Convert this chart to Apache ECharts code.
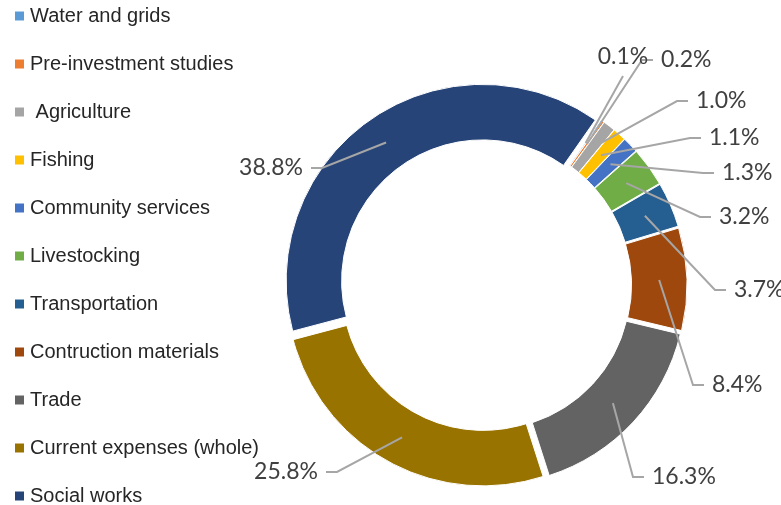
<!DOCTYPE html>
<html><head><meta charset="utf-8">
<script src="https://cdn.jsdelivr.net/npm/echarts@6/dist/echarts.min.js"></script>
<style>html,body{margin:0;padding:0;background:#fff}#c{width:781px;height:505px}</style>
</head><body><div id="c"></div>
<script>
// ---- data ----
const categories = ['Water and grids', 'Pre-investment studies', ' Agriculture', 'Fishing', 'Community services', 'Livestocking', 'Transportation', 'Contruction materials', 'Trade', 'Current expenses (whole)', 'Social works'];
const shares = [0.1, 0.2, 1.0, 1.1, 1.3, 3.2, 3.7, 8.4, 16.3, 25.8, 38.8];

// ---- style / layout ----
const colors = ['#5B9BD5', '#ED7D31', '#A5A5A5', '#FFC000', '#4472C4', '#70AD47', '#255E91', '#9E480E', '#636363', '#997300', '#264478'];
const labelElbow = [[623, 76], [642, 60], [677, 101], [690, 138], [703, 173], [700, 217], [715, 290], [693, 385], [633, 477], [337, 472], [322, 168]];
const labelSide = [0, 1, 1, 1, 1, 1, 1, 1, 1, -1, -1];

const CX = 485.5, CY = 285, R0 = 141, R1 = 196.5, EXPLODE = 5, LINE_R = (R0 + R1) / 2;

const pieBase = {
  type: 'pie',
  center: [CX, CY],
  radius: [R0, R1],
  startAngle: 55,
  clockwise: true,
  silent: true,
  avoidLabelOverlap: false,
  emphasis: { disabled: true }
};

const chart = echarts.init(document.getElementById('c'), null, { renderer: 'canvas' });
chart.setOption({
  animation: false,
  color: colors,
  legend: {
    orient: 'vertical', left: 15, top: 6, padding: 0, height: 560,
    itemWidth: 9, itemHeight: 9, itemGap: 28, icon: 'rect',
    selectedMode: false,
    data: categories,
    itemStyle: { borderWidth: 0 },
    textStyle: { fontFamily: 'Liberation Sans, Arial, sans-serif', fontSize: 20, color: '#262626', lineHeight: 20, padding: [0, 0, 0, 1] }
  },
  series: [
    Object.assign({}, pieBase, {
      name: 'slices',
      selectedMode: 'multiple',
      selectedOffset: EXPLODE,
      itemStyle: { borderColor: '#fff', borderWidth: 1 },
      select: { itemStyle: { borderColor: '#fff', borderWidth: 1 } },
      label: { show: false },
      labelLine: { show: false },
      data: categories.map((n, i) => ({ name: n, value: shares[i], selected: true }))
    }),
    Object.assign({}, pieBase, {
      name: 'labels',
      z: 5,
      legendHoverLink: false,
      itemStyle: { color: 'rgba(0,0,0,0)', borderWidth: 0 },
      label: {
        show: true, position: 'outside',
        formatter: p => p.value.toFixed(1) + '%',
        fontFamily: 'Lato, sans-serif', fontSize: 23, color: '#404040'
      },
      labelLine: { show: true, showAbove: true, lineStyle: { color: '#a6a6a6', width: 2 } },
      labelLayout: function (params) {
        const i = params.dataIndex;
        const p0 = params.labelLinePoints[0];
        const dx = p0[0] - CX, dy = p0[1] - CY, len = Math.hypot(dx, dy) || 1;
        const ux = dx / len, uy = dy / len;
        const a = [CX + ux * (LINE_R + EXPLODE), CY + uy * (LINE_R + EXPLODE)];
        const e = labelElbow[i], s = labelSide[i];
        if (s === 0) {
          return { x: e[0], y: e[1] - 19, align: 'center', verticalAlign: 'middle', labelLinePoints: [a, e.slice(), e.slice()] };
        }
        const end = [e[0] + s * 11, e[1]];
        return { x: end[0] + s * 8, y: e[1], align: s > 0 ? 'left' : 'right', verticalAlign: 'middle', labelLinePoints: [a, e.slice(), end] };
      },
      data: categories.map((n, i) => ({ name: n, value: shares[i] }))
    })
  ]
});
</script>
</body></html>
